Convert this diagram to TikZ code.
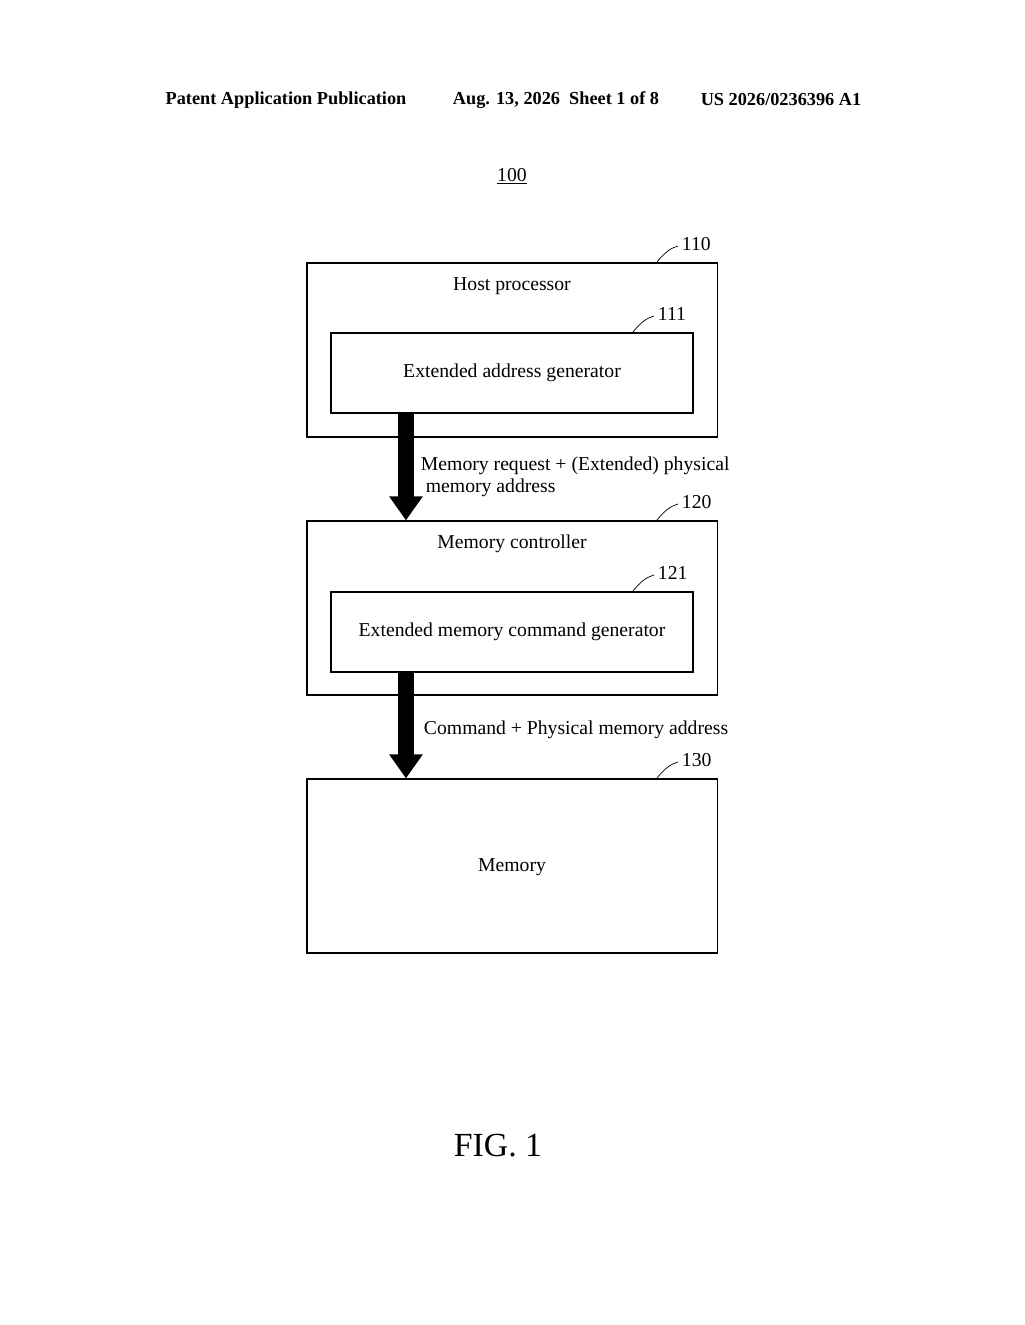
\documentclass[tikz,border=0pt]{standalone}
\usepackage{fontspec}
\setmainfont{Liberation Serif}
\usetikzlibrary{arrows.meta,positioning}
\tikzset{
  blk/.style={draw, line width=0.8pt, minimum width=10.25cm, minimum height=4.35cm},
  sub/.style={draw, line width=0.8pt, minimum width=9.05cm, minimum height=2cm, font=\fontsize{14}{16}\selectfont},
  ttl/.style={font=\fontsize{14}{16}\selectfont},
  refno/.style={font=\fontsize{14}{16}\selectfont, anchor=west},
  bigarrow/.style={line width=0.4cm, -{Triangle[width=0.8cm,length=0.6cm]}},
}
\begin{document}
\begin{tikzpicture}[x=0.025cm,y=-0.025cm]
\useasboundingbox (0,0) rectangle (1024,1325);
% header
\node[font=\bfseries\fontsize{13}{15}\selectfont] at (286,100) {Patent Application Publication};
\node[font=\bfseries\fontsize{13}{15}\selectfont] at (556,100) {Aug. 13, 2026\ \ Sheet 1 of 8};
\node[font=\bfseries\fontsize{13}{15}\selectfont] at (781,100) {US 2026/0236396 A1};
\node[ttl] (fig) at (512,176) {\underline{100}};

% blocks
\node[blk] (host) at (512,350) {};
\node[ttl] at (512,286) {Host processor};
\node[sub] (gen) at (512,373) {Extended address generator};
\node[blk] (ctrl) at (512,608) {};
\node[ttl] at (512,544) {Memory controller};
\node[sub] (cmd) at (512,632) {Extended memory command generator};
\node[blk] (mem) at (512,866) {};
\node[ttl] at (512,867) {Memory};

% reference numerals
\foreach \n/\x/\y in {110/657/262, 111/633/332, 120/657/520, 121/633/591, 130/657/778}{
  \draw[line width=0.5pt] (\x,\y) .. controls (\x+8,\y-10) and (\x+14,\y-14) .. (\x+21,\y-16);
  \node[refno] at (\x+20,\y-18) {\n};
}

% arrows
\draw[bigarrow] ([xshift=-2.65cm]gen.south) -- ([xshift=-2.65cm]ctrl.north);
\draw[bigarrow] ([xshift=-2.65cm]cmd.south) -- ([xshift=-2.65cm]mem.north);
\node[ttl, anchor=west, align=left] at (416,477) {Memory request + (Extended) physical\\\ memory address};
\node[ttl, anchor=west] at (419,730) {Command + Physical memory address};

\node[font=\fontsize{24}{28}\selectfont] at (498,1146) {FIG. 1};
\end{tikzpicture}
\end{document}
